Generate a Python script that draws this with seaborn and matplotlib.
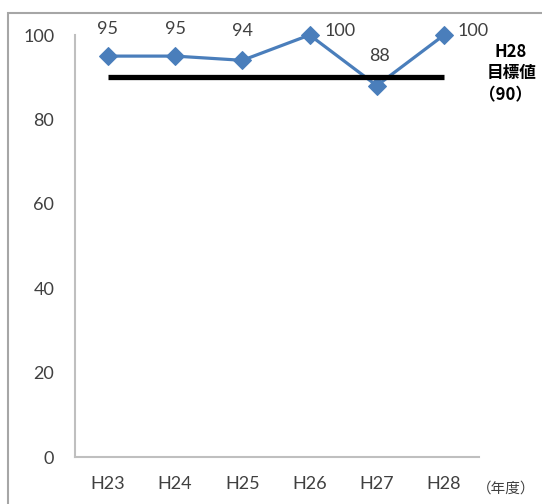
import matplotlib
matplotlib.use("Agg")
import matplotlib.pyplot as plt
import seaborn as sns
import pandas as pd
from matplotlib.patches import Rectangle

years = ["H23", "H24", "H25", "H26", "H27", "H28"]
values = [95, 95, 94, 100, 88, 100]
target = 90
yticks = [0, 20, 40, 60, 80, 100]

sns.set_theme(style="white")
plt.rcParams['font.family'] = ['Lato', 'Noto Sans CJK JP', 'DejaVu Sans']

fig = plt.figure(figsize=(5.42, 5.04), dpi=100)
W, H = 542, 504
ax = fig.add_axes([75 / W, (H - 457) / H, (479 - 75) / W, (457 - 35) / H])

# outer frame
fig.patches.append(Rectangle((8 / W, -0.1), 1.2, 1.1 - 13 / H, transform=fig.transFigure,
                             fill=False, edgecolor="#A6A6A6", linewidth=1.5))

df = pd.DataFrame({"year": years, "value": values})
sns.lineplot(data=df, x="year", y="value", ax=ax, color="#4A7EBB", linewidth=2.3,
             marker="D", markersize=9, markeredgecolor="#4A7EBB", clip_on=False, zorder=3)

ax.plot([0, 5], [target, target], color="black", linewidth=3.8, zorder=4, solid_capstyle="butt")

# label offsets in pixels (dx, dy)
offsets = {0: (0, 27), 1: (0, 27), 2: (0, 29), 3: (30, 4), 4: (3, 30), 5: (29, 4)}
for i, v in enumerate(values):
    dx, dy = offsets[i]
    ax.annotate(str(v), (i, v), xytext=(dx * 72 / 100, dy * 72 / 100), textcoords="offset points",
                ha="center", va="center", fontsize=13, color="#404040")

ax.set_xlim(-0.49, 5.52)
ax.set_ylim(0, 100)
ax.set_yticks(yticks)
ax.set_xlabel("")
ax.set_ylabel("")
ax.tick_params(axis="both", length=0, labelsize=13, labelcolor="#404040")
ax.tick_params(axis="y", pad=15)
ax.tick_params(axis="x", pad=14)
for s in ["top", "right"]:
    ax.spines[s].set_visible(False)
for s in ["left", "bottom"]:
    ax.spines[s].set_color("#BFBFBF")
    ax.spines[s].set_linewidth(1.5)

kw = dict(ha="center", va="center", fontsize=12, fontweight="bold",
          family=["Noto Sans CJK JP"], color="black")
fig.text(511 / W, 1 - 52 / H, "H28", **kw)
fig.text(512 / W, 1 - 73 / H, "目標値", **kw)
fig.text(505 / W, 1 - 95 / H, "（90）", **kw)
fig.text(506 / W, 1 - 489 / H, "（年度）", ha="center", va="center", fontsize=10.5,
         family=["Noto Sans CJK JP"], color="#404040")

fig.savefig("out.png", dpi=100)
